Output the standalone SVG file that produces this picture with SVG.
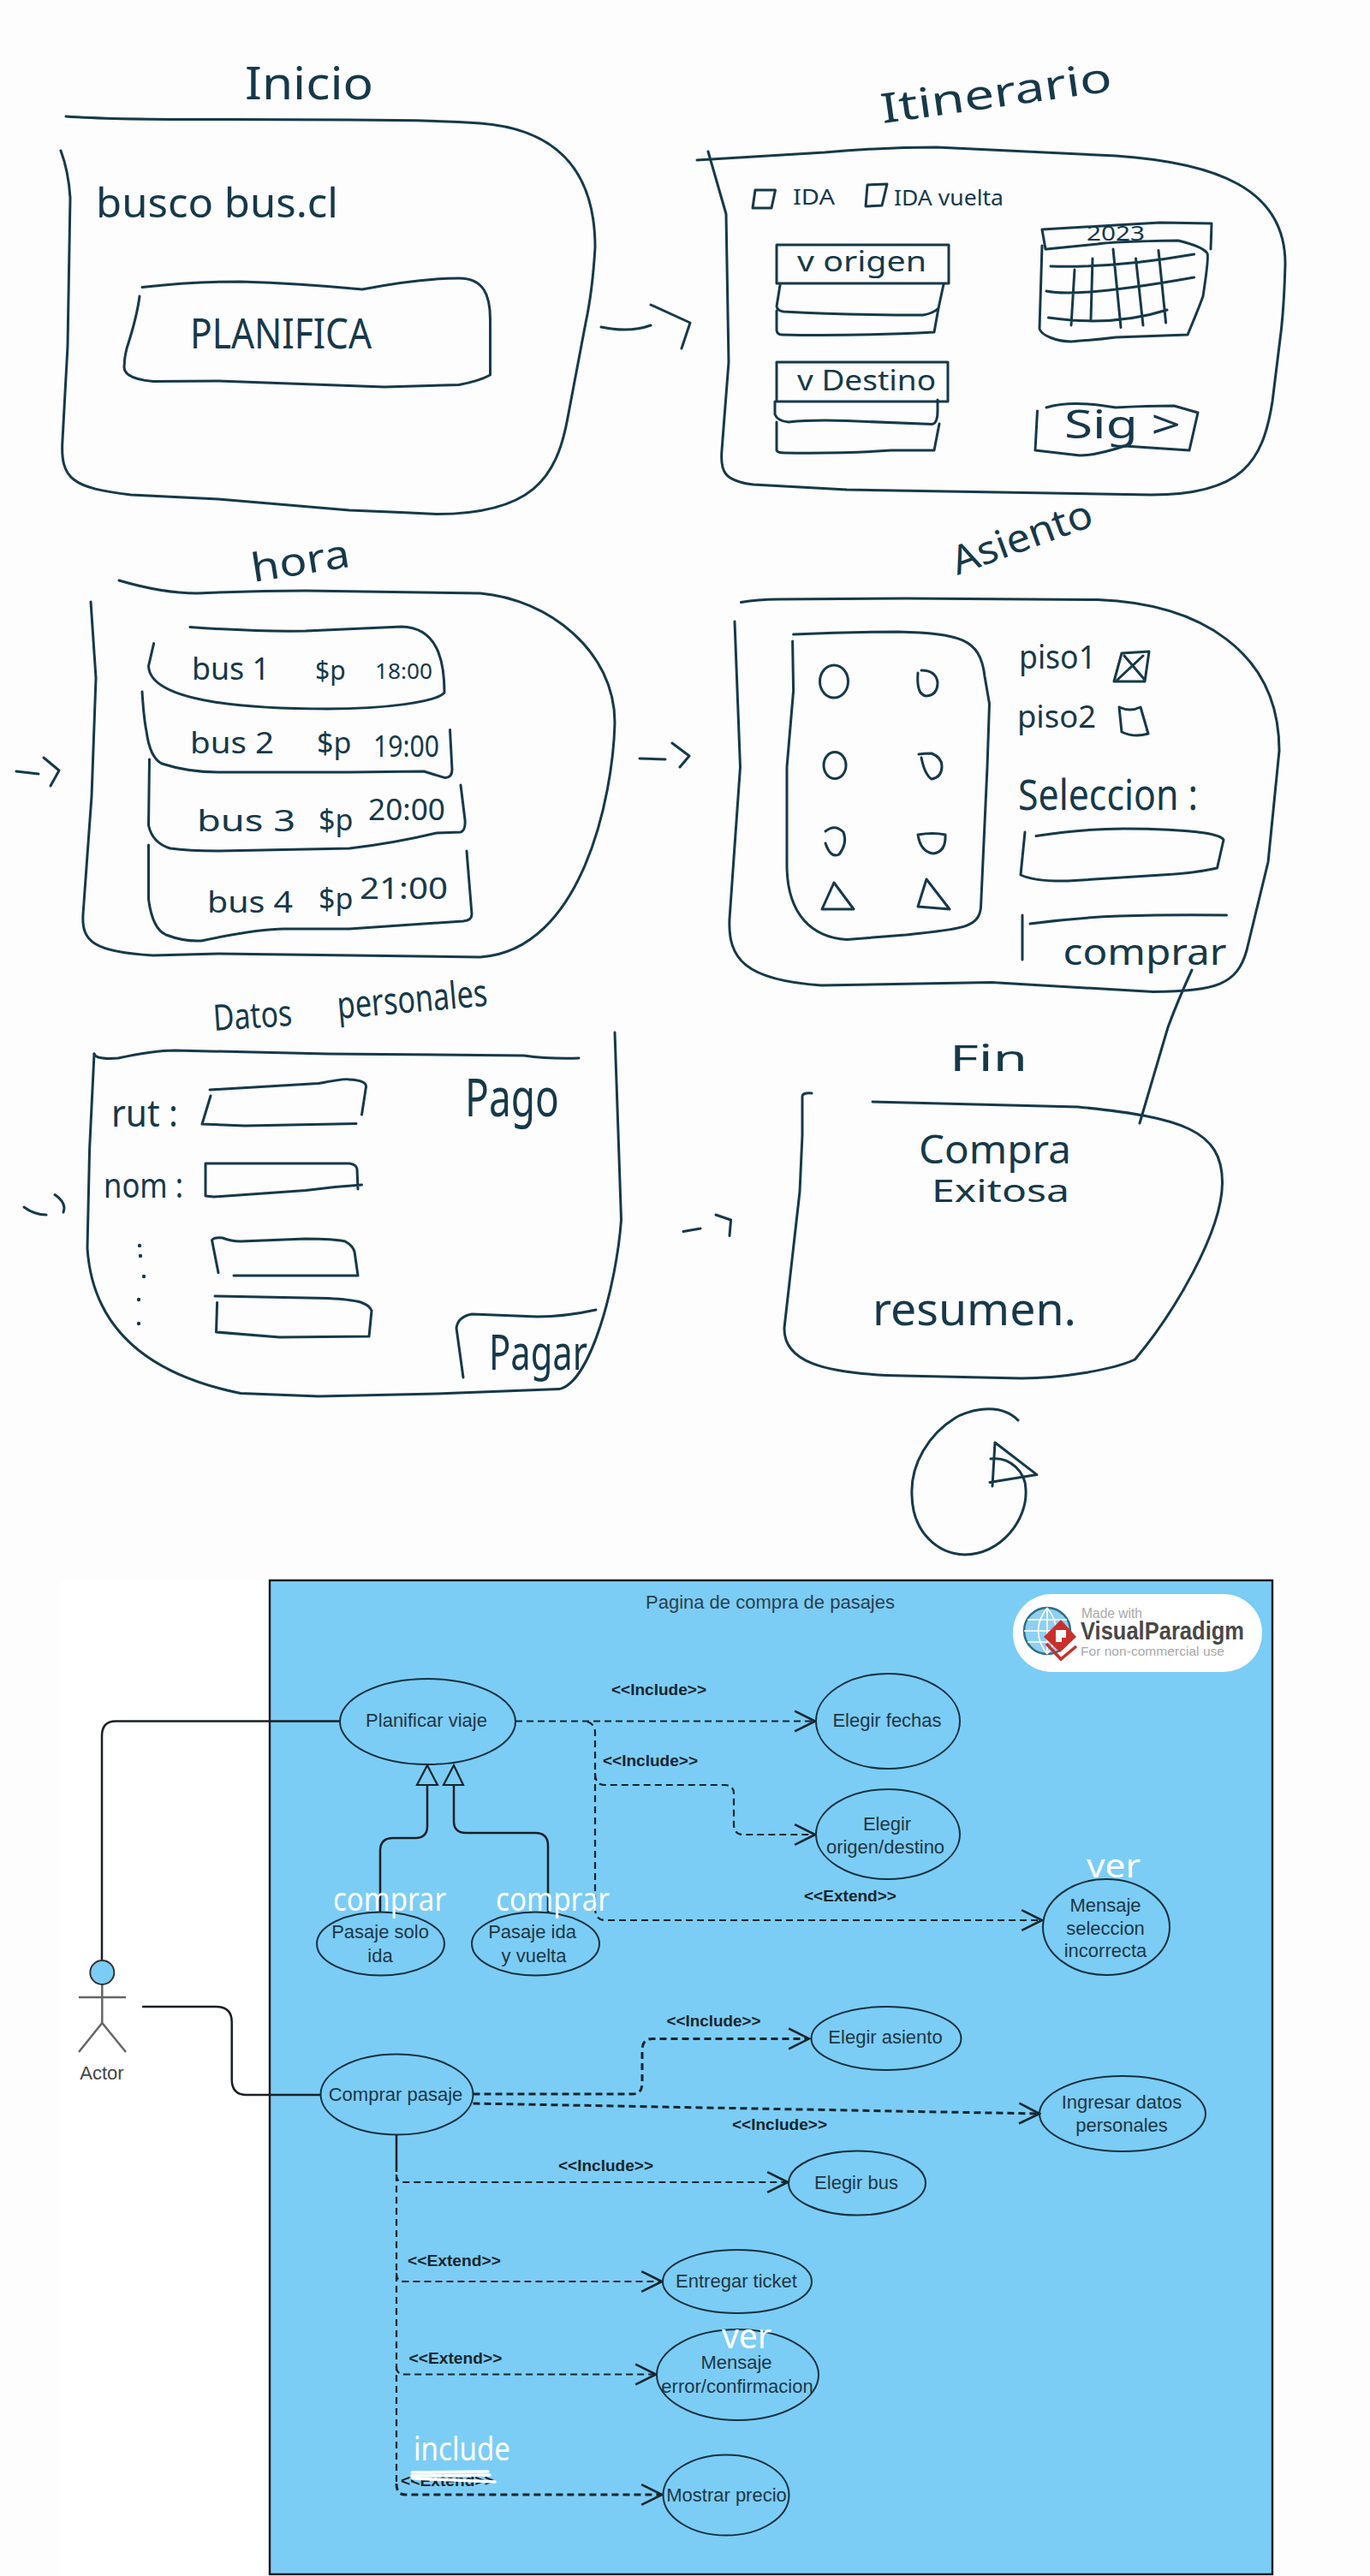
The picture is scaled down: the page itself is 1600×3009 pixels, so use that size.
<svg xmlns="http://www.w3.org/2000/svg" width="1600" height="3009" viewBox="0 0 1600 3009">
<style>
.s{fill:none;stroke:#16394a;stroke-width:3;stroke-linecap:round;stroke-linejoin:round}
.h{font-family:"Noto Sans","Liberation Sans",sans-serif;fill:#16394a}
.w{font-family:"Noto Sans","Liberation Sans",sans-serif;fill:#fff}
.u{font-family:"Liberation Sans",Arial,sans-serif;font-size:22px;fill:#1f3644;text-anchor:middle}
.l{font-family:"Liberation Sans",Arial,sans-serif;font-size:18px;font-weight:bold;fill:#16262f}
.e{fill:none;stroke:#14303e;stroke-width:2}
.c{fill:none;stroke:#1a1f24;stroke-width:2.5;stroke-linejoin:round}
.d{fill:none;stroke:#14262f;stroke-width:2.2;stroke-dasharray:8 5;stroke-linejoin:round}
.g{fill:#7bcdf5;stroke:#14262f;stroke-width:2.2}
</style>
<defs>
<marker id="open" markerUnits="userSpaceOnUse" markerWidth="28" markerHeight="28" viewBox="-25 -13 27 26" refX="0" refY="0" orient="auto"><path d="M-23 -11.5L0 0L-23 11.5" fill="none" stroke="#14262f" stroke-width="2.5"/></marker>
</defs>
<rect width="1600" height="3009" fill="#fdfdfd"/>
<rect x="70" y="1846" width="250" height="1163" fill="#fff"/>

<g id="pantalla-inicio">
<path class="s" d="M77 136Q133 140 270 139.5L408 140Q500 140 561 144C640 150 695 190 695 289Q692 340 684 377L663 488C650 560 620 600 510 600.6Q460 598 408 596L255 583Q190 580 153 578C85 570 70 560 73 514L79 404L82 231Q80 200 71 176"/>
<path class="s" d="M166 335.5Q225 329 281 329Q350 331 423 338Q490 325 536 325C565 325 572.5 345 572.5 373L572.5 438Q560 445 536 449.5L449 452L255 445L179 445.6C150 443 143 435 145.4 425Q145 420 148 407Q160 370 163 346"/>
<text class="h" x="286" y="116" font-size="52" textLength="150" lengthAdjust="spacingAndGlyphs">Inicio</text>
<text class="h" x="112" y="254" font-size="48" textLength="283" lengthAdjust="spacingAndGlyphs">busco bus.cl</text>
<text class="h" x="222" y="407" font-size="50" textLength="212" lengthAdjust="spacingAndGlyphs">PLANIFICA</text>
</g>

<g id="pantalla-itinerario">
<path class="s" d="M814 187L963 178Q1030 172 1094 172L1303 182C1420 190 1501 220 1501 308Q1500 350 1496.5 384L1486 469C1475 540 1450 578 1345 578L989 572L880 566C845 562 841 550 843 526L851 423L848 250L827 177"/>
<path class="s" d="M882 222L905.5 222L901 243L879 243L882 222M1013 216L1036 215L1030 240L1011 241L1013 216"/>
<rect class="s" x="907" y="286" width="201" height="45"/>
<path class="s" d="M911 333L907 358Q908 363 915 364Q989 368 1078 368Q1090 366 1096 360L1102 332M907 363L907 386Q908 391 913 391Q989 393 1091 388L1096 360"/>
<rect class="s" x="907" y="423" width="200" height="46"/>
<path class="s" d="M905 469L905 484Q908 492 921 493Q950 490 989 491.6L1089 495.4Q1095 494 1095 480L1095 467M907 493L907 526Q908 529 916 529Q990 530 1041 526L1091 526L1097 495"/>
<path class="s" d="M1221 291L1217 268L1303 263L1355 260L1415 261L1414 291M1217 287L1214 384C1216 392 1235 399 1251 399Q1280 397 1303 394L1387 391Q1400 360 1405 346Q1412 300 1410 296Q1405 288 1376 281Q1300 282 1282 285L1222 291"/>
<path class="s" d="M1227 311Q1303 313 1394.5 297M1222 340Q1260 348 1394.5 324M1224.5 371Q1300 382 1363 362M1255 315L1251 380M1276 302L1274 373M1300 291L1309 382.5M1326.5 302L1335 380M1353 292.6L1361.6 377"/>
<path class="s" d="M1222 476Q1251 467 1303 476Q1340 474 1371 474L1399 482L1389 526L1313.5 521Q1280 532 1261 532L1209 526L1211.5 480"/>
<text class="h" transform="rotate(-8 1031 144)" x="1031" y="144" font-size="48" textLength="272" lengthAdjust="spacingAndGlyphs">Itinerario</text>
<text class="h" x="926" y="239" font-size="26" textLength="49" lengthAdjust="spacingAndGlyphs">IDA</text>
<text class="h" x="1044" y="240" font-size="26" textLength="128" lengthAdjust="spacingAndGlyphs">IDA vuelta</text>
<text class="h" x="931" y="317" font-size="32" textLength="151" lengthAdjust="spacingAndGlyphs">v origen</text>
<text class="h" x="931" y="456" font-size="32" textLength="162" lengthAdjust="spacingAndGlyphs">v Destino</text>
<text class="h" x="1269" y="281" font-size="24" textLength="68" lengthAdjust="spacingAndGlyphs">2023</text>
<text class="h" x="1243" y="512" font-size="46" textLength="136" lengthAdjust="spacingAndGlyphs">Sig &gt;</text>
</g>

<g id="pantalla-hora">
<path class="s" d="M139 678Q190 693 230 693Q300 690 357 690L561 693C640 700 718 760 718 844C716 930 680 1110 561 1118L255 1114L178.6 1116C110 1112 95 1100 97 1068L107 930L112 792L106 703"/>
<path class="s" d="M222 732.6Q300 738 357 737L469 732C510 733 519 770 519 809C510 820 450 828 383 828C300 828 175 822 173.5 778L179.6 751.6"/>
<path class="s" d="M166 808Q168 840 171 854Q175 885 189 892Q220 902 255 902L408 902L495 901L520 908.6Q528 908 528 899L525.5 852.5"/>
<path class="s" d="M174.5 887L173.5 964Q178 985 199 991Q220 994 255 994L408 991Q460 985 510 973L538 972Q544 970 543 957.5L538 917"/>
<path class="s" d="M173.5 987L173.5 1050.5Q178 1085 194 1092Q215 1100 235 1099Q300 1085 332 1085L408 1085L541 1076Q551 1075 551 1068L545 994"/>
<text class="h" transform="rotate(-9 296 680)" x="296" y="680" font-size="46" textLength="116" lengthAdjust="spacingAndGlyphs">hora</text>
<text class="h" font-size="36"><tspan x="224" y="794" textLength="91" lengthAdjust="spacingAndGlyphs">bus 1</tspan> <tspan x="368" y="794" font-size="30">$p</tspan> <tspan x="438" y="793" font-size="26" textLength="67" lengthAdjust="spacingAndGlyphs">18:00</tspan></text>
<text class="h" font-size="34"><tspan x="222" y="880" textLength="98" lengthAdjust="spacingAndGlyphs">bus 2</tspan> <tspan x="370" y="880">$p</tspan> <tspan x="436" y="884" textLength="77" lengthAdjust="spacingAndGlyphs">19:00</tspan></text>
<text class="h" font-size="34"><tspan x="230" y="971" textLength="115" lengthAdjust="spacingAndGlyphs">bus 3</tspan> <tspan x="372" y="970">$p</tspan> <tspan x="430" y="958" textLength="90" lengthAdjust="spacingAndGlyphs">20:00</tspan></text>
<text class="h" font-size="34"><tspan x="242" y="1066" textLength="100" lengthAdjust="spacingAndGlyphs">bus 4</tspan> <tspan x="372" y="1062">$p</tspan> <tspan x="420" y="1050" textLength="103" lengthAdjust="spacingAndGlyphs">21:00</tspan></text>
</g>

<g id="pantalla-asiento">
<path class="s" d="M865.5 703.6Q885 700 909 700L1058 699L1282 700.6C1400 705 1494 760 1494 877L1481 1007L1456 1110C1445 1150 1420 1158 1347 1158.5L1158 1147.5L959 1151C870 1145 850 1120 852 1073.5L864.5 896L858 726"/>
<path class="s" d="M926.6 741Q990 738 1048.5 738C1120 740 1145 745 1150 790L1155.5 822L1153 896L1145.5 1060C1143 1085 1120 1085 1058 1092L989 1097.5C950 1095 918 1070 919 1007L919 896L926.6 807L925.6 749"/>
<ellipse class="s" cx="974" cy="796" rx="16.5" ry="19"/>
<path class="s" d="M1072 786Q1070 812 1082 813Q1095 812 1095 797Q1093 783 1076 783"/>
<ellipse class="s" cx="975" cy="894" rx="13" ry="15.5"/>
<path class="s" d="M1073 881Q1080 880 1088 880Q1100 885 1100 895Q1100 908 1088 910Q1080 905 1076 885"/>
<path class="s" d="M964 971Q975 962 985 972Q990 985 980 998Q970 1003 964 985"/>
<path class="s" d="M1072 975Q1090 972 1104 975Q1105 995 1090 997Q1075 995 1072 975"/>
<path class="s" d="M974 1031L997 1062L960 1062L974 1031M1082 1027L1109 1062L1072 1059L1082 1027"/>
<path class="s" d="M1310 763L1342 761L1337 796L1301 796L1310 763M1313 766L1336 793M1335 766L1305 794"/>
<path class="s" d="M1307 826Q1320 832 1332 826L1341 857Q1325 862 1310 855L1307 826"/>
<path class="s" d="M1210 976.6Q1265 968 1312 968Q1370 968 1407 973Q1426 976 1429 981L1421.5 1014Q1395 1020 1357 1022L1247 1029Q1210 1030 1192 1022L1197 972"/>
<path class="s" d="M1432.5 1069Q1370 1068 1307 1070Q1255 1072 1203 1079M1194 1069L1194 1121"/>
<text class="h" transform="rotate(-20 1118 672)" x="1118" y="672" font-size="46" textLength="172" lengthAdjust="spacingAndGlyphs">Asiento</text>
<text class="h" x="1190" y="781" font-size="38" textLength="90" lengthAdjust="spacingAndGlyphs">piso1</text>
<text class="h" x="1188" y="850" font-size="36" textLength="92" lengthAdjust="spacingAndGlyphs">piso2</text>
<text class="h" x="1189" y="946" font-size="50" textLength="210" lengthAdjust="spacingAndGlyphs">Seleccion :</text>
<text class="h" x="1241.5" y="1127" font-size="42" textLength="191" lengthAdjust="spacingAndGlyphs">comprar</text>
</g>

<g id="pantalla-datos">
<path class="s" d="M110 1231Q112 1238 138 1236Q180 1227 204 1227L383 1231L612 1233Q640 1237 676 1236"/>
<path class="s" d="M110 1231L104.6 1342L102 1458C108 1550 170 1605 281 1627.5L372 1631L510 1628L653 1622.6C690 1615 720 1500 725.5 1425L718 1206"/>
<path class="s" d="M245 1273L372 1265.5Q405 1259 408 1261Q428 1262 427.5 1269.5L422.5 1302M246 1280L236 1313L286 1315L416 1312.5"/>
<path class="s" d="M240 1359L408 1359Q416 1360 417 1365.6L418 1389M422.5 1384Q390 1386 357 1390.5L250 1398L240 1397L240 1359"/>
<path class="s" d="M255 1486.6L247.5 1448.5Q250 1445 260 1446Q270 1450 281 1450L357 1447Q390 1447 403 1450Q412 1455 414 1462L418 1490L273 1490"/>
<path class="s" d="M251 1514L383 1516.5Q410 1518 421 1521Q432 1525 434 1531L431 1561L326.5 1562L252.5 1556L253.6 1521.5"/>
<path class="s" d="M696 1530Q660 1538 627.5 1538L551 1535Q535 1538 533 1551L541 1609"/>
<g fill="#16394a"><circle cx="163" cy="1455" r="2.2"/><circle cx="164" cy="1467" r="2.2"/><circle cx="168" cy="1491" r="2.2"/><circle cx="162" cy="1518" r="2.2"/><circle cx="162" cy="1546" r="2.2"/></g>
<text class="h" transform="rotate(-4 250 1204)" x="250" y="1204" font-size="42" textLength="92" lengthAdjust="spacingAndGlyphs">Datos</text>
<text class="h" transform="rotate(-5 395 1190)" x="395" y="1190" font-size="44" textLength="176" lengthAdjust="spacingAndGlyphs">personales</text>
<text class="h" x="130" y="1316" font-size="44" textLength="78" lengthAdjust="spacingAndGlyphs">rut :</text>
<text class="h" x="121" y="1399" font-size="40" textLength="93" lengthAdjust="spacingAndGlyphs">nom :</text>
<text class="h" x="543" y="1304" font-size="62" textLength="110" lengthAdjust="spacingAndGlyphs">Pago</text>
<text class="h" x="571" y="1600" font-size="56" textLength="115" lengthAdjust="spacingAndGlyphs">Pagar</text>
</g>

<g id="pantalla-fin">
<path class="s" d="M948 1277Q937 1276 937 1281L937 1326L934 1392L916 1551C915 1590 960 1605 1055 1607L1193 1610C1240 1610 1300 1600 1325.5 1588C1370 1535 1427 1440 1427.5 1382C1428 1320 1380 1305 1259 1293L1019 1287"/>
<text class="h" x="1109" y="1251" font-size="42" textLength="91" lengthAdjust="spacingAndGlyphs">Fin</text>
<text class="h" x="1073" y="1359" font-size="46" textLength="178" lengthAdjust="spacingAndGlyphs">Compra</text>
<text class="h" x="1088" y="1404" font-size="36" textLength="161" lengthAdjust="spacingAndGlyphs">Exitosa</text>
<text class="h" x="1019" y="1548" font-size="52" textLength="238" lengthAdjust="spacingAndGlyphs">resumen.</text>
</g>

<g id="icono-final">
<path class="s" d="M1189 1659C1165 1635 1125 1650 1116 1656C1085 1675 1063 1710 1065 1747C1066 1790 1095 1815 1126.5 1816C1170 1815 1200 1775 1198 1740C1198 1720 1180 1701 1157 1704"/>
<path class="s" d="M1159 1736L1162 1685L1211 1722.6L1156 1731.5"/>
</g>

<g id="conectores-bocetos">
<path class="s" d="M702 382Q735 389 760 380M760 356L806 377L796 407"/>
<path class="s" d="M19 901L45 904M51 885L69 900L59 918"/>
<path class="s" d="M747 886L777 887M785 868L805 883L794 896"/>
<path class="s" d="M28 1410Q40 1419 54 1419M64 1395.5Q78 1405 74 1416"/>
<path class="s" d="M798 1438.5L818 1435M836 1419L853.6 1425L852 1443.5"/>
<path class="s" d="M1392 1133Q1375 1170 1364 1200L1331 1312"/>
</g>

<g id="sistema">
<rect x="315" y="1846" width="1171" height="1161" fill="#7bcdf5" stroke="#14181c" stroke-width="2.4"/>
<text x="754" y="1879" font-family="Liberation Sans,Arial,sans-serif" font-size="22" fill="#2a3f4d" textLength="291" lengthAdjust="spacingAndGlyphs">Pagina de compra de pasajes</text>
</g>

<g id="logo">
<rect x="1183" y="1862" width="291" height="91" rx="45" fill="#fff"/>
<circle cx="1223" cy="1905" r="27" fill="#8fd0f2" stroke="#2f6f85" stroke-width="2.5"/>
<path d="M1196 1905H1250M1200 1892H1246M1200 1918H1246M1223 1878V1932M1223 1878Q1202 1905 1223 1932M1223 1878Q1244 1905 1223 1932" fill="none" stroke="#fff" stroke-width="1.6"/>
<path d="M1239 1892L1257 1912L1238 1930L1219 1912Z" fill="#c9302c"/>
<path d="M1233 1904H1245V1913H1240V1918H1233Z" fill="#fff"/>
<path d="M1222 1920L1239 1938L1257 1923" fill="none" stroke="#c9302c" stroke-width="3.5"/>
<text x="1263" y="1890" font-family="Liberation Sans,Arial,sans-serif" font-size="16" fill="#a9a9a9" textLength="71" lengthAdjust="spacingAndGlyphs">Made with</text>
<text x="1262" y="1915" font-family="Liberation Sans,Arial,sans-serif" font-size="29" font-weight="bold" fill="#484848" textLength="191" lengthAdjust="spacingAndGlyphs">VisualParadigm</text>
<text x="1262" y="1934" font-family="Liberation Sans,Arial,sans-serif" font-size="15" fill="#a9a9a9" textLength="168" lengthAdjust="spacingAndGlyphs">For non-commercial use</text>
</g>

<g id="conectores">
<path class="c" d="M397 2010.5H135Q119 2010.5 119 2028V2291"/>
<path class="c" d="M166 2344H252Q270.7 2344 270.7 2362V2429Q270.7 2447 288 2447H374"/>
<path class="c" d="M499 2085V2133Q499 2147 485 2147H459Q444 2147 444 2162V2234"/>
<path class="c" d="M530 2085V2127Q530 2141 544 2141H625Q640 2141 640 2156V2234"/>
<path d="M499 2062L511 2085H487Z M530 2062L541 2085H518Z" class="g"/>
<path class="d" marker-end="url(#open)" d="M602 2010.5H952"/>
<path class="d" marker-end="url(#open)" d="M686 2011Q695 2014 695 2024V2071Q695 2085 706 2085H846Q857 2085 857 2095V2131Q857 2143 868 2143H952"/>
<path class="d" marker-end="url(#open)" d="M695 2071V2229Q695 2243 707 2243H1217"/>
<path class="d" marker-end="url(#open)" style="stroke-width:3" d="M552.5 2446H739Q750 2446 750 2433V2395Q750 2381.4 762 2381.4H945"/>
<path class="d" marker-end="url(#open)" style="stroke-width:3" d="M552.5 2457L1100 2467L1214 2469"/>
<path class="c" d="M463 2493.5V2537"/>
<path class="d" d="M463 2540V2901"/>
<path class="d" marker-end="url(#open)" d="M463 2540Q463 2549 471 2549H920"/>
<path class="d" marker-end="url(#open)" d="M463 2655Q463 2665 471 2665H773"/>
<path class="d" marker-end="url(#open)" d="M463 2765Q463 2773.5 473.5 2773.5H766"/>
<path class="d" marker-end="url(#open)" style="stroke-width:3" d="M463 2901Q463 2914 473 2914H773"/>
</g>

<g id="actor">
<path d="M119.3 2318V2363M92 2333H147M92 2397L119.3 2363L147 2397" fill="none" stroke="#666" stroke-width="2.5"/>
<circle cx="119.3" cy="2304" r="14" fill="#7bcdf5" stroke="#333" stroke-width="2"/>
<text class="u" x="119" y="2429" style="fill:#444">Actor</text>
</g>

<g id="uc-planificar"><ellipse class="e" cx="499.5" cy="2011" rx="102.5" ry="50"/><text class="u" x="498" y="2017">Planificar viaje</text></g>
<g id="uc-fechas"><ellipse class="e" cx="1037" cy="2010.5" rx="84" ry="55.5"/><text class="u" x="1036" y="2017">Elegir fechas</text></g>
<g id="uc-origen"><ellipse class="e" cx="1037" cy="2142.5" rx="84" ry="52.5"/><text class="u" x="1036" y="2138">Elegir</text><text class="u" x="1034" y="2164.5">origen/destino</text></g>
<g id="uc-solo-ida"><ellipse class="e" cx="444.5" cy="2270.5" rx="74.5" ry="37"/><text class="u" x="444" y="2264">Pasaje solo</text><text class="u" x="444" y="2292">ida</text></g>
<g id="uc-ida-vuelta"><ellipse class="e" cx="625.5" cy="2270.5" rx="74.5" ry="37"/><text class="u" x="621.5" y="2264">Pasaje ida</text><text class="u" x="623.5" y="2292">y vuelta</text></g>
<g id="uc-seleccion"><ellipse class="e" cx="1292" cy="2251" rx="74" ry="56"/><text class="u" x="1291" y="2233">Mensaje</text><text class="u" x="1291" y="2259.6">seleccion</text><text class="u" x="1291" y="2286">incorrecta</text></g>
<g id="uc-comprar"><ellipse class="e" cx="463.5" cy="2446.5" rx="89" ry="47"/><text class="u" x="462" y="2454">Comprar pasaje</text></g>
<g id="uc-asiento"><ellipse class="e" cx="1035" cy="2381" rx="87.5" ry="37"/><text class="u" x="1034" y="2387">Elegir asiento</text></g>
<g id="uc-datos"><ellipse class="e" cx="1311" cy="2469" rx="97" ry="44"/><text class="u" x="1310" y="2463">Ingresar datos</text><text class="u" x="1310" y="2490">personales</text></g>
<g id="uc-bus"><ellipse class="e" cx="1001" cy="2550" rx="80" ry="37.5"/><text class="u" x="1000" y="2557">Elegir bus</text></g>
<g id="uc-ticket"><ellipse class="e" cx="861" cy="2665" rx="87" ry="37"/><text class="u" x="860" y="2672">Entregar ticket</text></g>
<g id="uc-mensaje"><ellipse class="e" cx="861.5" cy="2774" rx="94.5" ry="53"/><text class="u" x="860" y="2767">Mensaje</text><text class="u" x="861" y="2795">error/confirmacion</text></g>
<g id="uc-precio"><ellipse class="e" cx="848" cy="2914.5" rx="73.5" ry="47"/><text class="u" x="848.5" y="2922">Mostrar precio</text></g>

<g id="etiquetas">
<text class="l" x="714" y="1980" textLength="111" lengthAdjust="spacingAndGlyphs">&lt;&lt;Include&gt;&gt;</text>
<text class="l" x="704" y="2063" textLength="111" lengthAdjust="spacingAndGlyphs">&lt;&lt;Include&gt;&gt;</text>
<text class="l" x="939" y="2221" textLength="108" lengthAdjust="spacingAndGlyphs">&lt;&lt;Extend&gt;&gt;</text>
<text class="l" x="778.6" y="2367" textLength="110" lengthAdjust="spacingAndGlyphs">&lt;&lt;Include&gt;&gt;</text>
<text class="l" x="855" y="2488" textLength="111" lengthAdjust="spacingAndGlyphs">&lt;&lt;Include&gt;&gt;</text>
<text class="l" x="652" y="2536" textLength="111" lengthAdjust="spacingAndGlyphs">&lt;&lt;Include&gt;&gt;</text>
<text class="l" x="476" y="2647" textLength="109" lengthAdjust="spacingAndGlyphs">&lt;&lt;Extend&gt;&gt;</text>
<text class="l" x="477.5" y="2761" textLength="109" lengthAdjust="spacingAndGlyphs">&lt;&lt;Extend&gt;&gt;</text>
<text class="l" x="468" y="2904" textLength="109" lengthAdjust="spacingAndGlyphs">&lt;&lt;Extend&gt;&gt;</text>
<path d="M481 2888L570 2887M481 2892L572 2891M482 2895L578 2899" fill="none" stroke="#fff" stroke-width="3.5" stroke-linecap="round"/>
</g>

<g id="notas-blancas">
<text class="w" x="389" y="2232" font-size="38" textLength="132" lengthAdjust="spacingAndGlyphs">comprar</text>
<text class="w" x="579" y="2232" font-size="38" textLength="133" lengthAdjust="spacingAndGlyphs">comprar</text>
<text class="w" x="1269" y="2193" font-size="38" textLength="63" lengthAdjust="spacingAndGlyphs">ver</text>
<text class="w" x="843" y="2743" font-size="40" textLength="58" lengthAdjust="spacingAndGlyphs">ver</text>
<text class="w" x="483" y="2874" font-size="38" textLength="113" lengthAdjust="spacingAndGlyphs">include</text>
</g>
</svg>
